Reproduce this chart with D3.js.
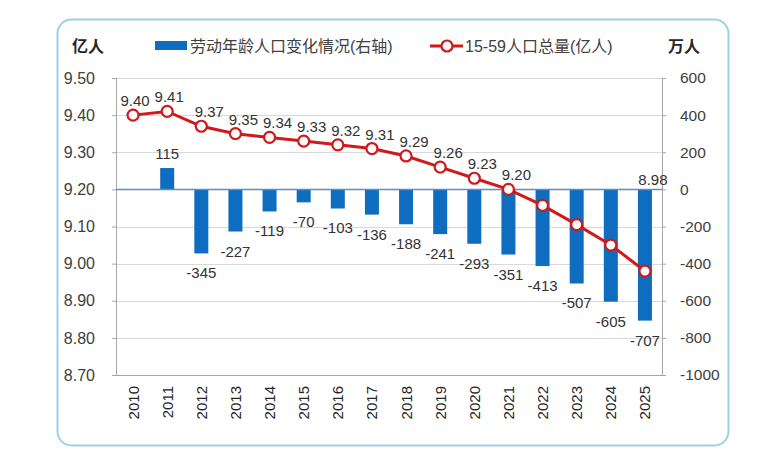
<!DOCTYPE html>
<html><head><meta charset="utf-8">
<script src="https://cdn.jsdelivr.net/npm/d3@7"></script>
<style>
body{margin:0;background:#fff;}
svg{display:block;}
text{font-family:"Liberation Sans","Noto Sans CJK SC",sans-serif;}
</style></head>
<body><svg id="c" width="779" height="466"></svg>
<script>
const years = ["2010","2011","2012","2013","2014","2015","2016","2017","2018","2019","2020","2021","2022","2023","2024","2025"];
const laborChange = [null,115,-345,-227,-119,-70,-103,-136,-188,-241,-293,-351,-413,-507,-605,-707];
const total1559 = [9.40,9.41,9.37,9.35,9.34,9.33,9.32,9.31,9.29,9.26,9.23,9.20,9.157,9.105,9.05,8.98];
const totalLabels = ["9.40","9.41","9.37","9.35","9.34","9.33","9.32","9.31","9.29","9.26","9.23","9.20","","","","8.98"];
const leftTicks = [8.70,8.80,8.90,9.00,9.10,9.20,9.30,9.40,9.50];
const rightTicks = [-1000,-800,-600,-400,-200,0,200,400,600];
const legendBar = "劳动年龄人口变化情况(右轴)";
const legendLine = "15-59人口总量(亿人)";
const leftUnit = "亿人", rightUnit = "万人";

const svg = d3.select("#c");
const L = 116, R = 662, T = 78, B = 375;

svg.append("rect").attr("x",57.5).attr("y",19.5).attr("width",671).attr("height",426)
  .attr("rx",14).attr("fill","#fff").attr("stroke","#9fd0e6").attr("stroke-width",2);

const x = d3.scaleBand().domain(years).range([L,R]);
const yL = d3.scaleLinear().domain([8.70,9.50]).range([B,T]);
const yR = d3.scaleLinear().domain([-1000,600]).range([B,T]);

// gridlines
svg.append("g").selectAll("line").data(leftTicks).join("line")
  .attr("x1",L).attr("x2",R).attr("y1",d=>Math.round(yL(d))+0.5).attr("y2",d=>Math.round(yL(d))+0.5)
  .attr("stroke","#d9d9d9").attr("stroke-width",1);

// axes
const gL = svg.append("g").attr("transform",`translate(${L},0)`)
  .call(d3.axisLeft(yL).tickValues(leftTicks).tickFormat(d3.format(".2f")).tickSize(4).tickPadding(17));
const gR = svg.append("g").attr("transform",`translate(${R},0)`)
  .call(d3.axisRight(yR).tickValues(rightTicks).tickFormat(d=>d).tickSize(4).tickPadding(14));
[gL,gR].forEach(g=>{
  g.select(".domain").attr("stroke","#a6a6a6");
  g.selectAll(".tick line").attr("stroke","#a6a6a6");
  g.selectAll(".tick text").attr("font-size",16).attr("fill","#404040");
});
gR.selectAll(".tick text").attr("font-size",15.5);
svg.append("line").attr("x1",L).attr("x2",R).attr("y1",B+0.5).attr("y2",B+0.5).attr("stroke","#a6a6a6");

// x labels
svg.append("g").selectAll("text").data(years).join("text")
  .attr("transform",d=>`translate(${x(d)+x.bandwidth()/2+5.5},${B+11}) rotate(-90)`)
  .attr("text-anchor","end").attr("font-size",15).attr("fill","#262626").text(d=>d);

// bars
const bw = 14;
const barData = years.map((y,i)=>({y,v:laborChange[i]})).filter(d=>d.v!==null);
svg.append("g").selectAll("rect").data(barData).join("rect")
  .attr("x",d=>x(d.y)+x.bandwidth()/2-bw/2).attr("width",bw)
  .attr("y",d=>yR(Math.max(0,d.v))).attr("height",d=>Math.abs(yR(d.v)-yR(0)))
  .attr("fill","#0f6dbf");
svg.append("line").attr("x1",L).attr("x2",R).attr("y1",yR(0)).attr("y2",yR(0))
  .attr("stroke","#5b8fbf").attr("stroke-width",1.5);
svg.append("g").selectAll("text").data(barData).join("text")
  .attr("x",d=>x(d.y)+x.bandwidth()/2)
  .attr("y",d=>d.v>0?yR(d.v)-9:yR(d.v)+25)
  .attr("text-anchor","middle").attr("font-size",15).attr("fill","#333").text(d=>d.v);

// line
const lineData = years.map((y,i)=>({y,v:total1559[i],l:totalLabels[i]}));
const line = d3.line().x(d=>x(d.y)+x.bandwidth()/2).y(d=>yL(d.v));
svg.append("path").datum(lineData).attr("d",line).attr("fill","none")
  .attr("stroke","#d0191b").attr("stroke-width",3);
svg.append("g").selectAll("circle").data(lineData).join("circle")
  .attr("cx",d=>x(d.y)+x.bandwidth()/2).attr("cy",d=>yL(d.v)).attr("r",5.5)
  .attr("fill","#fff").attr("stroke","#d0191b").attr("stroke-width",2.2);
svg.append("g").selectAll("text").data(lineData.filter(d=>d.l)).join("text")
  .attr("x",(d,i)=>x(d.y)+x.bandwidth()/2+(i<2?2:8))
  .attr("y",d=>d.y==="2025"?yR(0)-4:yL(d.v)-9)
  .attr("text-anchor","middle").attr("font-size",15).attr("fill","#333").text(d=>d.l);

// header / legend
svg.append("text").attr("x",72).attr("y",52).attr("font-size",16).attr("font-weight","bold")
  .attr("fill","#262626").text(leftUnit);
svg.append("text").attr("x",668).attr("y",52).attr("font-size",16).attr("font-weight","bold")
  .attr("fill","#262626").text(rightUnit);
svg.append("rect").attr("x",155).attr("y",41).attr("width",32).attr("height",9).attr("fill","#0f6dbf");
svg.append("text").attr("x",190).attr("y",52).attr("font-size",16).attr("fill","#404040").text(legendBar);
svg.append("line").attr("x1",430).attr("x2",463).attr("y1",46).attr("y2",46).attr("stroke","#d0191b").attr("stroke-width",3);
svg.append("circle").attr("cx",447).attr("cy",46).attr("r",5.5).attr("fill","#fff").attr("stroke","#d0191b").attr("stroke-width",2.2);
svg.append("text").attr("x",465).attr("y",52).attr("font-size",16).attr("fill","#404040").text(legendLine);
</script></body></html>
